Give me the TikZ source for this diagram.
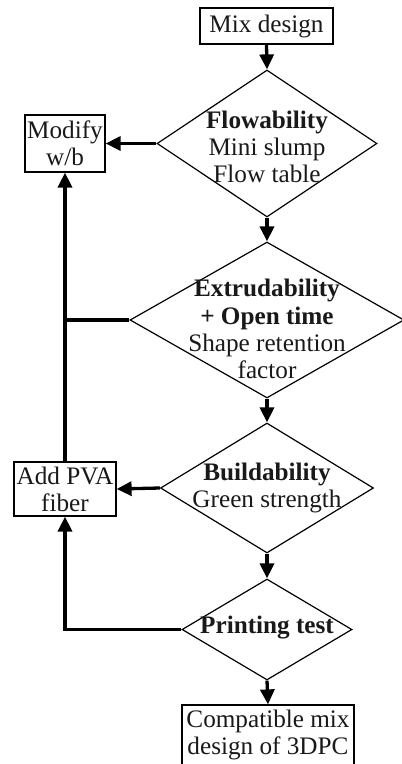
\documentclass[tikz,border=0pt]{standalone}
\usepackage{fontspec}
\setmainfont{Liberation Serif}
\usetikzlibrary{shapes.geometric,arrows.meta}

\begin{document}
\begin{tikzpicture}[x=0.5pt,y=-0.5pt,
  txt/.style={font=\fontsize{12.6}{13.6}\selectfont, align=center, inner sep=0pt, text=black!90},
  box/.style={draw, line width=0.6pt, inner sep=0pt, font=\fontsize{12.6}{13.6}\selectfont, align=center, text=black!90},
  dec/.style={draw, shape=diamond, line width=0.6pt, inner sep=0pt},
  flow/.style={line width=1.65pt, -{Triangle[length=7.5pt,width=7pt]}},
  link/.style={line width=1.65pt}
]
\useasboundingbox[fill=white] (0,0) rectangle (401,764);

% process boxes
\node[box, minimum width=66.5pt, minimum height=18pt] (mix) at (266.5,26) {Mix design};
\node[box, minimum width=40pt, minimum height=28.5pt] (modify) at (65,143.5) {Modify\\w/b};
\node[box, minimum width=51pt, minimum height=27pt] (pva) at (65,489) {Add PVA\\fiber};
\node[box, minimum width=86pt, minimum height=30pt] (compat) at (268,735) {Compatible mix\\design of 3DPC};

% decision diamonds
\node[dec, minimum width=110pt, minimum height=73.5pt] (flowab) at (267,143.5) {};
\node[dec, minimum width=137pt, minimum height=78pt] (extr) at (267,320) {};
\node[dec, minimum width=106.5pt, minimum height=65pt] (build) at (267,488) {};
\node[dec, minimum width=85pt, minimum height=50.5pt] (print) at (267,629.5) {};

% diamond texts
\node[txt] (flowabtxt) at (267,147) {\textbf{Flowability}\\Mini slump\\Flow table};
\node[txt] (extrtxt) at (267,329) {\textbf{Extrudability}\\\textbf{+ Open time}\\Shape retention\\factor};
\node[txt] (buildtxt) at (267,488) {\textbf{Buildability}\\Green strength};
\node[txt] (printtxt) at (267,628) {\textbf{Printing test}};

% main sequence
\draw[flow] (mix.south) -- (flowab.north);
\draw[flow] (flowab.south) -- (extr.north);
\draw[flow] (extr.south) -- (build.north);
\draw[flow] (build.south) -- (print.north);
\draw[flow] (print.south) -- (compat.north);

% feedback loops
\draw[flow] (flowab.west) -- (modify.east);
\draw[flow] (build.west) -- (pva.east);
\draw[flow] (pva.north) -- (modify.south);
\draw[link] (extr.west) -- (pva.north |- extr.west);
\draw[flow] (print.west) -| (pva.south);
\end{tikzpicture}
\end{document}
